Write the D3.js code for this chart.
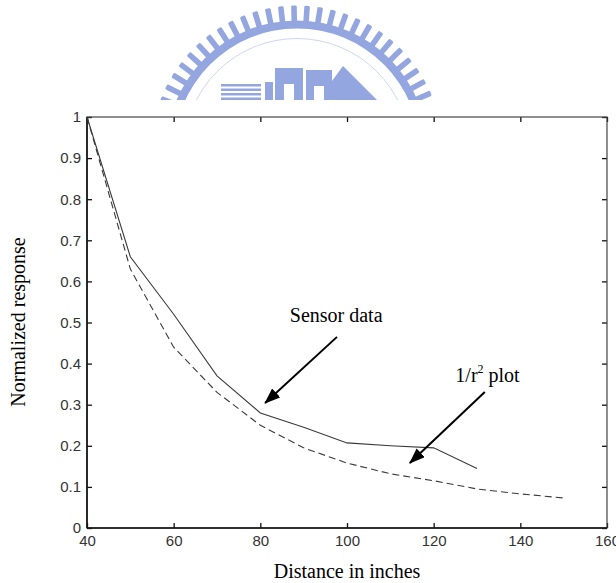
<!DOCTYPE html>
<html><head><meta charset="utf-8">
<script src="https://cdn.jsdelivr.net/npm/d3@7"></script>
<style>body{margin:0;background:#fff}svg{display:block}</style>
</head><body>
<svg id="c" width="616" height="583"></svg>
<script>
const distances = [40, 50, 60, 70, 80, 90, 100, 110, 120, 130];
const sensorData = [1.0, 0.66, 0.52, 0.37, 0.28, 0.245, 0.207, 0.2, 0.195, 0.145];
const invDistances = [40, 50, 60, 70, 80, 90, 100, 110, 120, 130, 140, 150];
const invSquare = [1.0, 0.63, 0.44, 0.33, 0.25, 0.195, 0.158, 0.132, 0.115, 0.095, 0.083, 0.073];
const xTicks = [40, 60, 80, 100, 120, 140, 160];
const xTickLabels = ["40", "60", "80", "100", "120", "140", "160"];
const yTicks = [0, 0.1, 0.2, 0.3, 0.4, 0.5, 0.6, 0.7, 0.8, 0.9, 1];
const yTickLabels = ["0", "0.1", "0.2", "0.3", "0.4", "0.5", "0.6", "0.7", "0.8", "0.9", "1"];
const annotations = [
  {label: "Sensor data", tx: 97.5, ty: 0.501, from: [97.7, 0.465], to: [81.1, 0.304]},
  {label: "1/r", sup: "2", rest: " plot", tx: 125.0, ty: 0.355, from: [131.8, 0.331], to: [114.5, 0.158]}
];

const svg = d3.select("#c");
const L = 87, R = 607, T = 117, B = 528;
const x = d3.scaleLinear().domain([40, 160]).range([L, R]);
const y = d3.scaleLinear().domain([0, 1]).range([B, T]);

// watermark logo
const wm = svg.append("g").attr("fill", "#93a6e0").attr("stroke", "none");
const cx = 297, cy = 151.5;
for (let a = 8; a <= 172; a += 5.2) {
  wm.append("rect").attr("x", -2.8).attr("y", -146).attr("width", 5.6).attr("height", 18)
    .attr("rx", 1.4)
    .attr("transform", `translate(${cx},${cy}) rotate(${90 - a})`);
}
wm.append("path").attr("d", d3.arc()({innerRadius: 123, outerRadius: 131, startAngle: -Math.PI/2, endAngle: Math.PI/2}))
  .attr("transform", `translate(${cx},${cy})`);
wm.append("circle").attr("cx", cx).attr("cy", cy).attr("r", 113).attr("fill", "none").attr("stroke", "#cdd6f2").attr("stroke-width", 1);
for (let i = 0; i < 4; i++) wm.append("rect").attr("x", 221).attr("y", 84 + i * 4.5).attr("width", 40).attr("height", 2.5);
wm.append("rect").attr("x", 265).attr("y", 82).attr("width", 8).attr("height", 18);
wm.append("rect").attr("x", 275).attr("y", 68).attr("width", 28).attr("height", 32);
wm.append("rect").attr("x", 306).attr("y", 70).attr("width", 26).attr("height", 30);
wm.append("path").attr("d", "M318,100 L343,66 L377,100 Z");
wm.append("rect").attr("x", 284).attr("y", 84).attr("width", 10).attr("height", 16).attr("fill", "#fff");
wm.append("rect").attr("x", 314).attr("y", 86).attr("width", 10).attr("height", 14).attr("fill", "#fff");
svg.append("rect").attr("x", 0).attr("y", 100).attr("width", 616).attr("height", 483).attr("fill", "#fff");

// axes
const g = svg.append("g").attr("font-family", "'Liberation Sans', Arial, sans-serif");
const fmtX = (d, i) => xTickLabels[i];
const fmtY = (d, i) => yTickLabels[i];
g.append("g").attr("transform", `translate(0,${B})`)
  .call(d3.axisBottom(x).tickValues(xTicks).tickFormat(fmtX).tickSizeInner(-5).tickSizeOuter(0).tickPadding(7));
g.append("g").attr("transform", `translate(0,${T})`)
  .call(d3.axisTop(x).tickValues(xTicks).tickFormat("").tickSizeInner(-5).tickSizeOuter(0));
g.append("g").attr("transform", `translate(${L},0)`)
  .call(d3.axisLeft(y).tickValues(yTicks).tickFormat(fmtY).tickSizeInner(-5).tickSizeOuter(0).tickPadding(6));
g.append("g").attr("transform", `translate(${R},0)`)
  .call(d3.axisRight(y).tickValues(yTicks).tickFormat("").tickSizeInner(-5).tickSizeOuter(0));
g.selectAll(".domain").remove();
g.selectAll(".tick line").attr("stroke", "#111").attr("stroke-width", 1.3);
g.selectAll(".tick text").attr("font-size", 15).attr("fill", "#333").attr("font-family", "'Liberation Sans', Arial, sans-serif");
svg.append("rect").attr("x", L).attr("y", T).attr("width", R - L).attr("height", B - T)
  .attr("fill", "none").attr("stroke", "#444").attr("stroke-width", 1.2);
svg.append("line").attr("x1", L).attr("x2", L).attr("y1", T).attr("y2", B).attr("stroke", "#111").attr("stroke-width", 1.6);
svg.append("line").attr("x1", L).attr("x2", R).attr("y1", B).attr("y2", B).attr("stroke", "#111").attr("stroke-width", 1.6);

// lines
const line = d3.line().x(d => x(d[0])).y(d => y(d[1]));
svg.append("path").datum(distances.map((d, i) => [d, sensorData[i]]))
  .attr("d", line).attr("fill", "none").attr("stroke", "#3a3a3a").attr("stroke-width", 1.1);
svg.append("path").datum(invDistances.map((d, i) => [d, invSquare[i]]))
  .attr("d", line).attr("fill", "none").attr("stroke", "#3a3a3a").attr("stroke-width", 1.1)
  .attr("stroke-dasharray", "7,4");

// annotations
svg.append("defs").append("marker").attr("id", "ah").attr("viewBox", "0 0 16 12")
  .attr("refX", 15).attr("refY", 6).attr("markerWidth", 16).attr("markerHeight", 12)
  .attr("markerUnits", "userSpaceOnUse").attr("orient", "auto")
  .append("path").attr("d", "M0,0 L16,6 L0,12 Z").attr("fill", "#000");
annotations.forEach(a => {
  svg.append("line").attr("x1", x(a.from[0])).attr("y1", y(a.from[1]))
    .attr("x2", x(a.to[0])).attr("y2", y(a.to[1]))
    .attr("stroke", "#000").attr("stroke-width", 2).attr("marker-end", "url(#ah)");
  const t = svg.append("text").attr("x", x(a.tx)).attr("y", y(a.ty))
    .attr("font-family", "'Liberation Serif', 'Times New Roman', serif").attr("font-size", 20).attr("fill", "#000")
    .attr("text-anchor", a.sup ? "start" : "middle");
  t.append("tspan").text(a.label);
  if (a.sup) {
    t.append("tspan").text(a.sup).attr("font-size", 12).attr("dy", -9);
    t.append("tspan").text(a.rest).attr("dy", 9);
  }
});

// axis titles
svg.append("text").attr("x", 347).attr("y", 578).attr("text-anchor", "middle")
  .attr("font-family", "'Liberation Serif', 'Times New Roman', serif").attr("font-size", 20).text("Distance in inches");
svg.append("text").attr("transform", "translate(25,322) rotate(-90)").attr("text-anchor", "middle")
  .attr("font-family", "'Liberation Serif', 'Times New Roman', serif").attr("font-size", 20).text("Normalized response");
</script>
</body></html>
